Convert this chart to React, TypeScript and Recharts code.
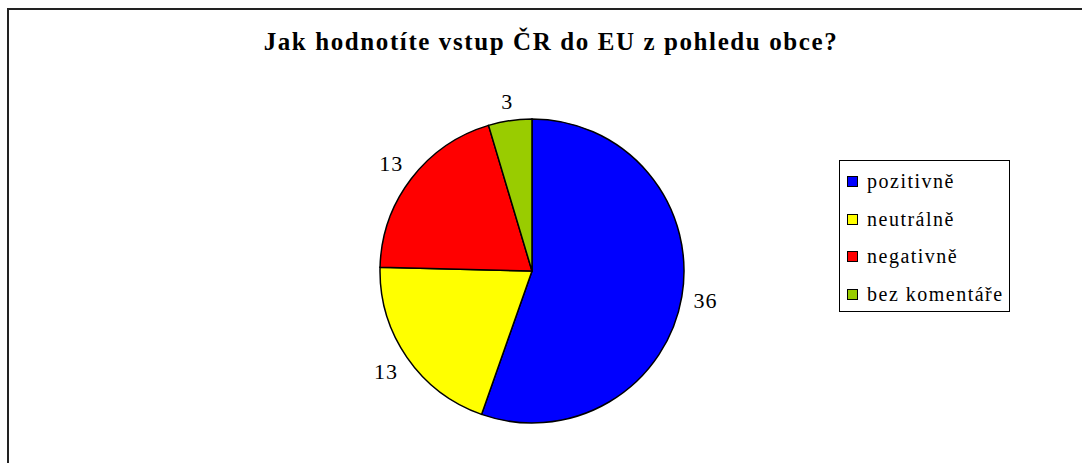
import { Legend, Pie, PieChart, Cell } from "recharts";

const categories = ["pozitivně", "neutrálně", "negativně", "bez komentáře"];
const counts = [36, 13, 13, 3];
const colors = ["#0000ff", "#ffff00", "#ff0000", "#99cc00"];

const title = "Jak hodnotíte vstup ČR do EU z pohledu obce?";

const data = categories.map((name, i) => ({
  name,
  value: counts[i],
  color: colors[i],
}));

const RADIAN = Math.PI / 180;
const FONT = "'Liberation Serif', 'Times New Roman', Times, serif";
const LABEL_SIZE = 22;

// label box sits just outside the rim, centred along the slice's mid angle
const renderLabel = (props: any) => {
  const { cx, cy, midAngle, outerRadius, value } = props;
  const cos = Math.cos(-midAngle * RADIAN);
  const sin = Math.sin(-midAngle * RADIAN);
  const hw = String(value).length * LABEL_SIZE * 0.27;
  const hh = LABEL_SIZE * 0.36;
  const r = outerRadius + 11 + hw * Math.abs(cos) + hh * Math.abs(sin);
  const x = cx + r * cos;
  const y = cy + r * sin;
  return (
    <text
      x={x}
      y={y}
      textAnchor="middle"
      dominantBaseline="central"
      fill="#000"
      fontSize={LABEL_SIZE}
      fontFamily={FONT}
      letterSpacing={1}
    >
      {value}
    </text>
  );
};

const LegendBox = () => (
  <div
    style={{
      border: "1px solid #000",
      background: "#fff",
      width: 171,
      height: 152,
      boxSizing: "border-box",
      padding: "2px 0 0 7px",
      fontFamily: FONT,
      fontSize: 20,
      color: "#000",
      textAlign: "left",
    }}
  >
    {data.map((item) => (
      <div
        key={item.name}
        style={{ display: "flex", alignItems: "center", height: 37.5 }}
      >
        <span
          style={{
            width: 11,
            height: 11,
            boxSizing: "border-box",
            border: "1px solid #000",
            background: item.color,
            marginRight: 9,
            flexShrink: 0,
          }}
        />
        <span style={{ letterSpacing: 1.5, whiteSpace: "nowrap" }}>
          {item.name}
        </span>
      </div>
    ))}
  </div>
);

const App = () => {
  return (
    <div
      style={{
        position: "absolute",
        left: 0,
        top: 0,
        width: 1082,
        height: 463,
        overflow: "hidden",
        background: "#fff",
      }}
    >
      <div
        style={{
          position: "absolute",
          left: 7,
          top: 8,
          width: 1200,
          height: 600,
          borderLeft: "2px solid #222",
          borderTop: "2px solid #222",
        }}
      />
      <div
        style={{
          position: "absolute",
          left: 10,
          top: 28,
          width: 1082,
          textAlign: "center",
          fontFamily: FONT,
          fontWeight: "bold",
          fontSize: 25,
          letterSpacing: 1.6,
          color: "#000",
          whiteSpace: "nowrap",
        }}
      >
        {title}
      </div>
      <PieChart
        width={1082}
        height={463}
        margin={{ top: 0, right: 0, bottom: 0, left: 0 }}
        style={{ position: "absolute", left: 0, top: 0 }}
      >
        <Pie
          data={data}
          dataKey="value"
          nameKey="name"
          cx={532}
          cy={271}
          outerRadius={152}
          startAngle={90}
          endAngle={-270}
          stroke="#000"
          strokeWidth={1.5}
          label={renderLabel}
          labelLine={false}
          isAnimationActive={false}
        >
          {data.map((item) => (
            <Cell key={item.name} fill={item.color} />
          ))}
        </Pie>
        <Legend
          content={() => <LegendBox />}
          wrapperStyle={{ left: 839, top: 160, width: 171 }}
        />
      </PieChart>
    </div>
  );
};

export default App;
